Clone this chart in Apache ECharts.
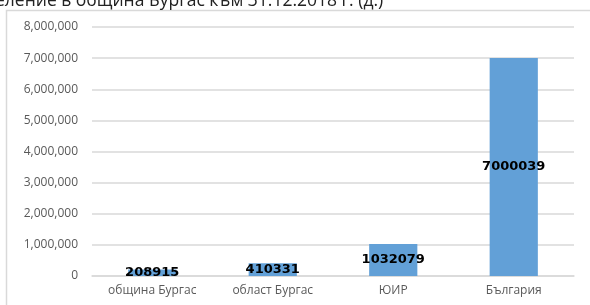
<!DOCTYPE html>
<html>
<head>
<meta charset="utf-8">
<script src="https://cdn.jsdelivr.net/npm/echarts@6/dist/echarts.min.js"></script>
<style>
  html, body { margin: 0; padding: 0; background: #fff; }
  #chart { width: 590px; height: 305px; }
</style>
</head>
<body>
<div id="chart"></div>
<script>
const titleText = 'Население в община Бургас към 31.12.2018 г. (д.)'
const categories = ['община Бургас', 'област Бургас', 'ЮИР', 'България']
const population = [208915, 410331, 1032079, 7000039]
const yMax = 8000000
const yStep = 1000000

const chart = echarts.init(document.getElementById('chart'))

const option = {
  backgroundColor: '#fff',
  animation: false,
  title: {
    text: titleText,
    left: -41,
    top: -13,
    textStyle: {
      fontFamily: 'Open Sans',
      fontSize: 17.5,
      fontWeight: 'normal',
      color: '#222'
    }
  },
  graphic: [
    {
      type: 'rect',
      shape: { x: 6.5, y: 10.5, width: 600, height: 310 },
      style: { fill: 'none', stroke: '#d9d9d9', lineWidth: 1.5 },
      z: -1
    }
  ],
  grid: {
    left: 92,
    right: 16,
    top: 27,
    bottom: 29
  },
  xAxis: {
    type: 'category',
    data: categories,
    axisLine: { lineStyle: { color: '#d9d9d9', width: 1.5 } },
    axisTick: { show: false },
    axisLabel: {
      color: '#595959',
      fontFamily: 'Open Sans',
      fontSize: 12,
      margin: 9
    }
  },
  yAxis: {
    type: 'value',
    min: 0,
    max: yMax,
    interval: yStep,
    axisLine: { show: false },
    axisTick: { show: false },
    splitLine: { lineStyle: { color: '#d9d9d9', width: 1.5 } },
    axisLabel: {
      color: '#595959',
      fontFamily: 'Open Sans',
      fontSize: 12,
      margin: 14,
      formatter: v => v.toLocaleString('en-US')
    }
  },
  series: [
    {
      type: 'bar',
      data: population,
      barWidth: '40%',
      itemStyle: { color: '#62a0d7' },
      label: {
        show: true,
        position: 'inside',
        color: '#000',
        fontFamily: 'DejaVu Sans',
        fontWeight: 'bold',
        fontSize: 13
      }
    }
  ]
}

chart.setOption(option)
</script>
</body>
</html>
